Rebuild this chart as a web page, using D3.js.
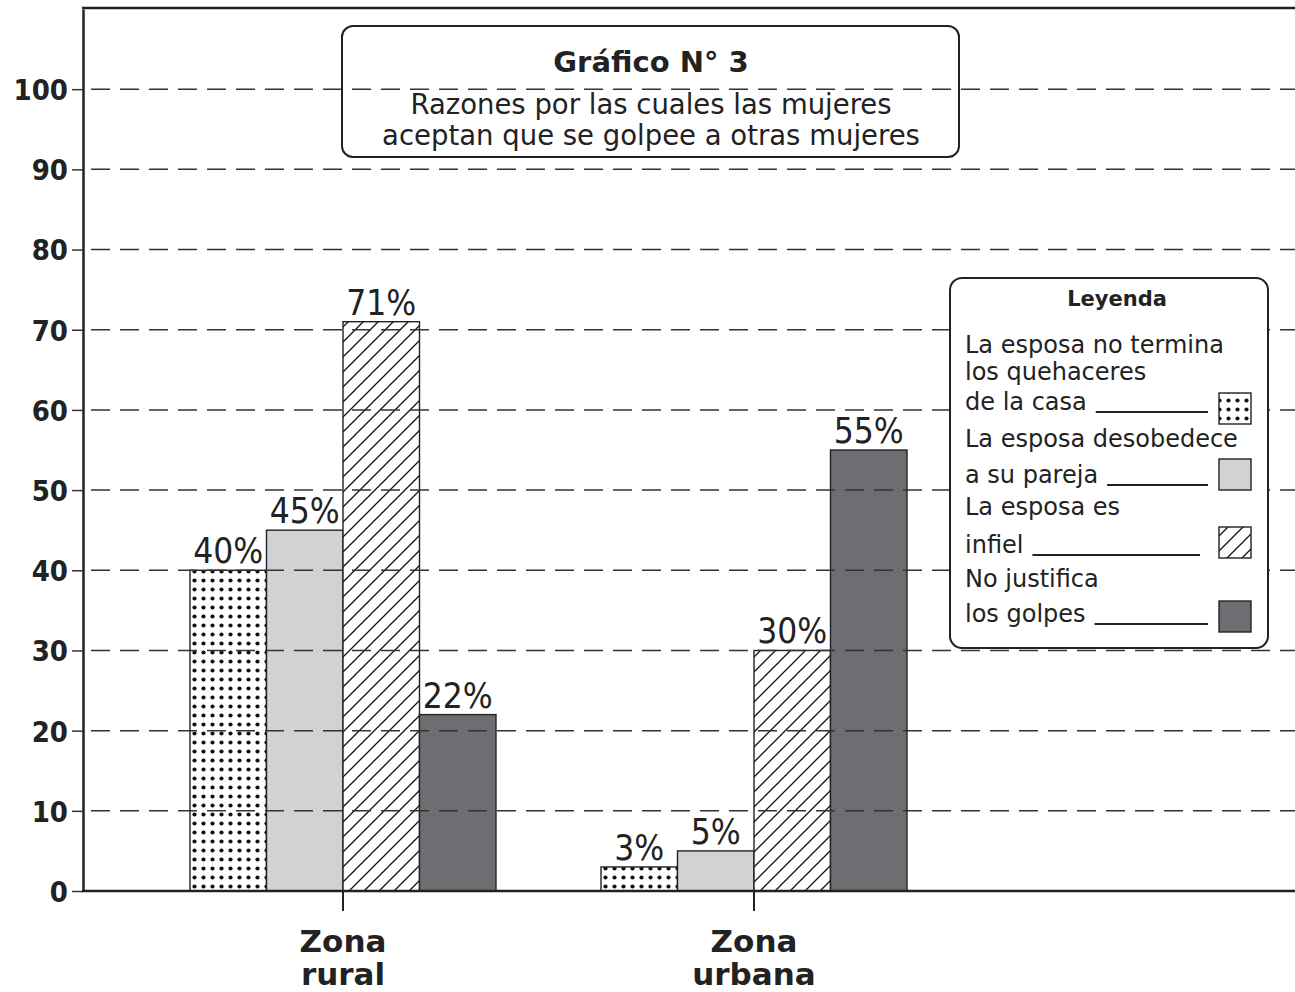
<!DOCTYPE html>
<html>
<head>
<meta charset="utf-8">
<script src="https://cdn.jsdelivr.net/npm/d3@7"></script>
<style>
  body { margin: 0; background: #fff; }
  text { font-family: "DejaVu Sans", sans-serif; fill: #222; }
  .cond { font-family: "DejaVu Sans Condensed", "DejaVu Sans", sans-serif; font-stretch: condensed; }
</style>
</head>
<body>
<div id="chart_root"></div>
<script>
// data
const zones = ["rural", "urbana"];
const zoneLabels = [["Zona", "rural"], ["Zona", "urbana"]];
const reasons = ["quehaceres", "desobedece", "infiel", "noJustifica"];
const rural = [40, 45, 71, 22];
const urbana = [3, 5, 30, 55];
const yTicks = [0, 10, 20, 30, 40, 50, 60, 70, 80, 90, 100];
const titleText = "Gráfico N° 3";
const subtitleLines = ["Razones por las cuales las mujeres", "aceptan que se golpee a otras mujeres"];
const legendTitle = "Leyenda";
const legendLines = [
    ["La esposa no termina", "los quehaceres", "de la casa"],
    ["La esposa desobedece", "a su pareja"],
    ["La esposa es", "infiel"],
    ["No justifica", "los golpes"]
];

const width = 1295, height = 992;
const values = { rural: rural, urbana: urbana };

const svg = d3.select("#chart_root")
    .append("svg")
    .attr("width", width)
    .attr("height", height);

// patterns
const defs = svg.append("defs");
const dots = defs.append("pattern")
    .attr("id", "dots")
    .attr("patternUnits", "userSpaceOnUse")
    .attr("width", 9).attr("height", 9);
dots.append("rect").attr("width", 9).attr("height", 9).attr("fill", "#fff");
dots.append("circle").attr("cx", 4.5).attr("cy", 4.5).attr("r", 2.1).attr("fill", "#111");

const hs = 15;
const hatch = defs.append("pattern")
    .attr("id", "hatch")
    .attr("patternUnits", "userSpaceOnUse")
    .attr("width", hs).attr("height", hs);
hatch.append("rect").attr("width", hs).attr("height", hs).attr("fill", "#fff");
hatch.append("path")
    .attr("d", `M0,${hs} L${hs},0 M${-hs / 4},${hs / 4} L${hs / 4},${-hs / 4} M${hs * 0.75},${hs * 1.25} L${hs * 1.25},${hs * 0.75}`)
    .attr("stroke", "#111")
    .attr("stroke-width", 1.3);

const fills = d3.scaleOrdinal()
    .domain(reasons)
    .range(["url(#dots)", "#d1d2d4", "url(#hatch)", "#6d6e71"]);

// scales
const y = d3.scaleLinear().domain([0, 110]).range([891, 9]);
const x0 = d3.scaleBand().domain(zones).range([190, 907]).paddingInner(0.2555).paddingOuter(0);
const x1 = d3.scaleBand().domain(reasons).range([0, x0.bandwidth()]);
const left = 83, right = width;

// bars
const groups = svg.append("g").selectAll("g")
    .data(zones)
    .enter()
    .append("g")
    .attr("transform", d => "translate(" + x0(d) + ",0)");

groups.selectAll("rect")
    .data(z => reasons.map((r, i) => ({ r: r, v: values[z][i] })))
    .enter()
    .append("rect")
    .attr("x", d => x1(d.r))
    .attr("y", d => y(d.v))
    .attr("width", x1.bandwidth())
    .attr("height", d => y(0) - y(d.v))
    .attr("fill", d => fills(d.r))
    .attr("stroke", "#222")
    .attr("stroke-width", 1.4);

groups.selectAll("text.val")
    .data(z => reasons.map((r, i) => ({ r: r, v: values[z][i] })))
    .enter()
    .append("text")
    .attr("class", "val cond")
    .attr("x", d => x1(d.r) + x1.bandwidth() / 2)
    .attr("y", d => y(d.v) - 7)
    .attr("text-anchor", "middle")
    .style("font-size", "35px")
    .text(d => d.v + "%");

// gridlines (drawn over bars)
svg.append("g").selectAll("line")
    .data(yTicks.filter(t => t > 0))
    .enter()
    .append("line")
    .attr("x1", left).attr("x2", right)
    .attr("y1", d => y(d)).attr("y2", d => y(d))
    .attr("stroke", "#333")
    .attr("stroke-width", 1.5)
    .attr("stroke-dasharray", "19,10")
    .attr("stroke-dashoffset", 21);

// y axis
const yAxis = svg.append("g")
    .attr("transform", "translate(" + left + ",0)")
    .call(d3.axisLeft(y).tickValues(yTicks).tickSize(11).tickSizeOuter(0).tickPadding(4));
yAxis.select(".domain").attr("stroke", "#222").attr("stroke-width", 2.5);
yAxis.selectAll(".tick line").attr("stroke", "#333").attr("stroke-width", 1.5);
yAxis.selectAll(".tick text")
    .attr("class", "cond")
    .style("font-size", "29px")
    .style("font-weight", "bold")
    .attr("fill", "#222")
    .attr("dy", "0.36em");

// x axis
const xAxis = svg.append("g")
    .attr("transform", "translate(0," + y(0) + ")")
    .call(d3.axisBottom(x0).tickSize(20).tickFormat(""));
xAxis.select(".domain").remove();
xAxis.selectAll(".tick line").attr("stroke", "#222").attr("stroke-width", 2);

svg.append("line")
    .attr("x1", left - 1).attr("x2", right)
    .attr("y1", y(0)).attr("y2", y(0))
    .attr("stroke", "#222").attr("stroke-width", 2.5);
svg.append("line")
    .attr("x1", left - 1).attr("x2", right)
    .attr("y1", 8).attr("y2", 8)
    .attr("stroke", "#222").attr("stroke-width", 2.5);

zones.forEach((z, i) => {
    svg.append("g").selectAll("text")
        .data(zoneLabels[i])
        .enter()
        .append("text")
        .attr("x", x0(z) + x0.bandwidth() / 2)
        .attr("y", (d, j) => 952 + j * 33)
        .attr("text-anchor", "middle")
        .style("font-size", "31px")
        .style("font-weight", "bold")
        .text(d => d);
});

// title box
svg.append("rect")
    .attr("x", 342).attr("y", 26)
    .attr("width", 617).attr("height", 131)
    .attr("rx", 11)
    .attr("fill", "none")
    .attr("stroke", "#222").attr("stroke-width", 2);
svg.append("text")
    .attr("x", 651).attr("y", 72)
    .attr("text-anchor", "middle")
    .style("font-size", "29px")
    .style("font-weight", "bold")
    .text(titleText);
svg.append("g").selectAll("text")
    .data(subtitleLines)
    .enter()
    .append("text")
    .attr("x", 651)
    .attr("y", (d, i) => 114 + i * 31)
    .attr("text-anchor", "middle")
    .style("font-size", "27.5px")
    .text(d => d);

// legend
const lg = svg.append("g");
lg.append("rect")
    .attr("x", 950).attr("y", 278)
    .attr("width", 318).attr("height", 370)
    .attr("rx", 12)
    .attr("fill", "#fff")
    .attr("stroke", "#222").attr("stroke-width", 2);
lg.append("text")
    .attr("x", 1117).attr("y", 306)
    .attr("text-anchor", "middle")
    .style("font-size", "21px")
    .style("font-weight", "bold")
    .text(legendTitle);

const lineBase = [[353, 380, 410], [447, 483], [515, 553], [587, 622]];
const swatchY = [393, 459, 527, 601];
const lineEnd = [1208, 1208, 1200, 1208];

legendLines.forEach((lines, i) => {
    let last;
    lines.forEach((t, j) => {
        last = lg.append("text")
            .attr("x", 965)
            .attr("y", lineBase[i][j])
            .style("font-size", "24px")
            .text(t);
    });
    const endX = 965 + last.node().getComputedTextLength() + 9;
    const by = lineBase[i][lines.length - 1] + 2;
    lg.append("line")
        .attr("x1", endX).attr("x2", lineEnd[i])
        .attr("y1", by).attr("y2", by)
        .attr("stroke", "#222").attr("stroke-width", 2);
    lg.append("rect")
        .attr("x", 1219).attr("y", swatchY[i])
        .attr("width", 32).attr("height", 31)
        .attr("fill", fills(reasons[i]))
        .attr("stroke", "#222").attr("stroke-width", 1.4);
});
</script>
</body>
</html>
